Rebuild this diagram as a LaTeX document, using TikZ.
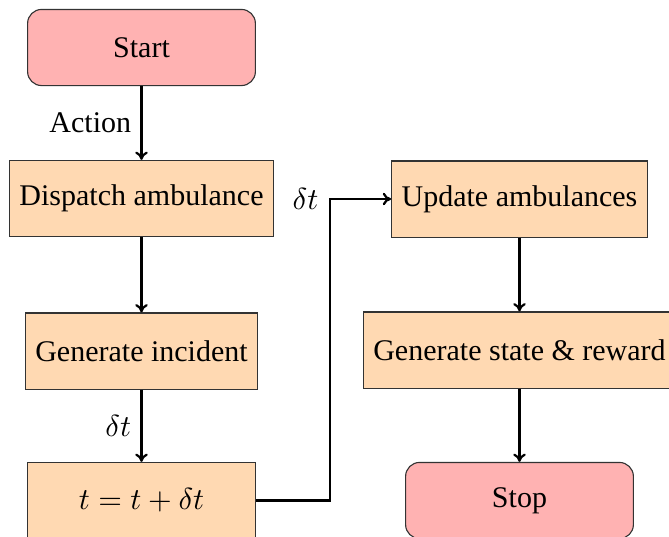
\documentclass[tikz,border=0pt]{standalone}
\usepackage{fontspec}
\setmainfont{Liberation Serif}
\usetikzlibrary{arrows.meta}
\tikzset{
  procbox/.style={draw=black!80, fill=orange!30, minimum width=82pt, minimum height=27.4pt, inner xsep=3.6pt},
  termbox/.style={procbox, fill=red!30, rounded corners=5pt},
  flow/.style={thick, -{To[length=3pt,width=4.5pt]}},
  every node/.append style={font=\fontsize{10.8}{13}\selectfont}
}
\begin{document}
\begin{tikzpicture}[x=0.36pt, y=-0.36pt]
  \useasboundingbox (0,0) rectangle (669,536);
  % left column
  \node[termbox] (start)    at (141.5, 47.5)  {Start};
  \node[procbox] (dispatch) at (141.5, 198.5) {Dispatch ambulance};
  \node[procbox] (incident) at (141.5, 351)   {Generate incident};
  \node[procbox] (tick)     at (141.5, 500.5) {$t = t + \delta t$};
  % right column
  \node[procbox] (update)   at (519.5, 199)   {Update ambulances};
  \node[procbox] (state)    at (519.5, 350)   {Generate state \& reward};
  \node[termbox] (stop)     at (519.5, 500.5) {Stop};
  % connectors
  \draw[flow] (start) -- node[midway, left] {Action} (dispatch);
  \draw[flow] (dispatch) -- (incident);
  \draw[flow] (incident) -- node[midway, left] {$\delta t$} (tick);
  \coordinate (jog) at (330, 199);
  \draw[flow] (tick.east) -| (jog) -- (update.west);
  \node[anchor=east, inner sep=4pt] (jlabel) at (jog) {$\delta t$};
  \draw[flow] (update) -- (state);
  \draw[flow] (state) -- (stop);
\end{tikzpicture}
\end{document}
